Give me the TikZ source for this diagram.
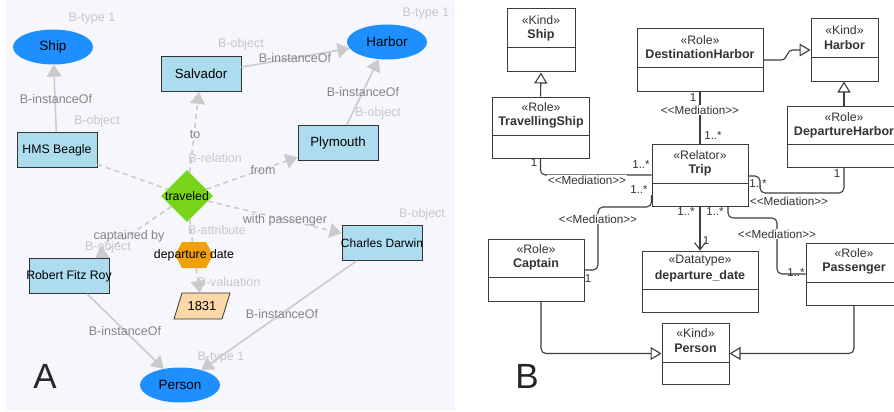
\documentclass[tikz,border=0pt]{standalone}
\usepackage{fontspec}
\setmainfont{Liberation Sans}
\usetikzlibrary{arrows.meta,shapes.geometric}
\definecolor{bgA}{HTML}{F6F7FD}
\definecolor{ellblue}{HTML}{1E8FFF}
\definecolor{boxblue}{HTML}{ADDCEF}
\definecolor{edgegray}{HTML}{CBCBCB}
\definecolor{lblgray}{HTML}{858585}
\definecolor{lightlbl}{HTML}{C8C8C8}
\definecolor{dgreen}{HTML}{78D41A}
\definecolor{orng}{HTML}{F0A10A}
\definecolor{peach}{HTML}{FCD8A8}
\definecolor{umlline}{HTML}{3C3C3C}
\definecolor{umltext}{HTML}{333333}
\begin{document}
\begin{tikzpicture}[x=1pt,y=-1pt,
  ent/.style={ellipse, fill=ellblue, minimum width=80pt, minimum height=35pt, inner sep=0, font=\fontsize{13.5}{15}\selectfont},
  obj/.style={rectangle, draw=umltext, line width=0.8pt, fill=boxblue, minimum width=80pt, minimum height=35pt, inner sep=0},
  objtxt/.style={inner sep=0, font=\fontsize{12.3}{14}\selectfont},
  rel/.style={draw=edgegray, line width=1.6pt, -{Triangle[length=12pt,width=15pt]}},
  drel/.style={rel, dash pattern=on 5pt off 4pt},
  dline/.style={draw=edgegray, line width=1.6pt, dash pattern=on 5pt off 4pt},
  elbl/.style={text=lblgray, font=\fontsize{12.5}{14}\selectfont, inner sep=0},
  tlbl/.style={text=lightlbl, font=\fontsize{12.5}{14}\selectfont, inner sep=0},
  big/.style={text=black!85, font=\fontsize{35}{40}\selectfont, inner sep=0},
  uml/.style={draw=umlline, line width=1pt, fill=white, inner sep=0},
  ster/.style={text=umltext, font=\fontsize{12.3}{14}\selectfont, inner sep=0},
  cname/.style={text=umltext, font=\bfseries\fontsize{12.5}{14}\selectfont, inner sep=0},
  conn/.style={draw=umlline, line width=1.1pt, rounded corners=5pt},
  gen/.style={conn, -{Triangle[open, length=11pt, width=13pt, fill=white]}},
  mult/.style={text=umltext, font=\fontsize{11.5}{13}\selectfont, inner sep=0},
  med/.style={text=umltext, font=\fontsize{11.7}{13}\selectfont, fill=white, inner sep=0.6pt}
]
\useasboundingbox (0,0) rectangle (894,412);
\fill[white] (0,0) rectangle (894,412);
% ---------- Panel A ----------
\fill[bgA] (6,0) rectangle (455,411);

\node[ent] (ship) at (53,47) {Ship};
\node[ent] (harbor) at (387,42) {Harbor};
\node[ent] (person) at (180,385) {Person};

\node[obj] (salv) at (201,74) {};
\node[objtxt, font=\fontsize{13.3}{15}\selectfont] (salvt) at (salv) {Salvador};
\node[obj] (plym) at (338,143) {};
\node[objtxt, font=\fontsize{13.3}{15}\selectfont] (plymt) at (plym) {Plymouth};
\node[obj] (hms) at (57,150) {};
\node[objtxt] (hmst) at (hms) {HMS Beagle};
\node[obj] (cd) at (382,243) {};
\node[objtxt, font=\fontsize{12}{14}\selectfont] (cdt) at (cd) {Charles Darwin};
\node[obj] (rfr) at (69,276) {};
\node[objtxt] (rfrt) at (rfr) {Robert Fitz Roy};

\node[diamond, fill=dgreen, minimum width=52pt, minimum height=52pt, inner sep=0] (trav) at (187,196) {};
\node[objtxt] (travt) at (trav) {traveled};

\node[minimum width=38pt, minimum height=26pt, inner sep=0] (dep) at (194,255) {};
\fill[orng] (175,255) -- (182,242) -- (206,242) -- (213,255) -- (206,268) -- (182,268) -- cycle;
\node[objtxt] (dept) at (dep) {departure date};

\node[minimum width=48pt, minimum height=26pt, inner sep=0] (yr) at (202,306) {};
\filldraw[fill=peach, draw=umltext, line width=0.8pt] (174,319) -- (182,293) -- (230,293) -- (222,319) -- cycle;
\node[objtxt, font=\fontsize{13}{15}\selectfont] (yrt) at (yr) {1831};

% edges A
\draw[rel] (hms) -- (ship);
\draw[rel] (salv) -- (harbor);
\draw[rel] (plym) -- (harbor);
\draw[rel] (rfr) -- (person);
\draw[rel] (cd) -- (person);
\draw[drel] (trav) -- (salv);
\draw[drel] (trav) -- (plym);
\draw[drel] (trav) -- (cd);
\draw[drel] (trav) -- (rfr);
\draw[dline] (hms) -- (trav);
\draw[dline] (trav) -- (dep);
\draw[drel] (dep) -- (yr);

% labels A
\node[elbl] (l1) at (56,99) {B-instanceOf};
\node[elbl] (l2) at (295,58) {B-instanceOf};
\node[elbl] (l3) at (363,92) {B-instanceOf};
\node[elbl] (l4) at (125,331) {B-instanceOf};
\node[elbl] (l5) at (282,314) {B-instanceOf};
\node[elbl] (l6) at (195,135) {to};
\node[elbl] (l7) at (263,170) {from};
\node[elbl] (l8) at (285,220) {with passenger};
\node[elbl] (l9) at (129,236) {captained by};
\node[tlbl] (t1) at (92,18) {B-type 1};
\node[tlbl] (t2) at (426,13) {B-type 1};
\node[tlbl] (t3) at (221,357) {B-type 1};
\node[tlbl] (t4) at (241,44) {B-object};
\node[tlbl] (t5) at (97,121) {B-object};
\node[tlbl] (t6) at (378,113) {B-object};
\node[tlbl] (t7) at (422,214) {B-object};
\node[tlbl] (t8) at (108,247) {B-object};
\node[tlbl] (t9) at (215,158) {B-relation};
\node[tlbl] (t10) at (217,230) {B-attribute};
\node[tlbl] (t11) at (229,282) {B-valuation};
\node[big] (labA) at (45,376) {A};

% ---------- Panel B ----------
% classes
\node[uml, minimum width=68pt, minimum height=63pt] (cship) at (541,40.5) {};
\draw[umlline, line width=1pt] (507,48) -- (575,48);
\node[ster] (cship1) at (541,20) {«Kind»};
\node[cname] (cship2) at (541,35) {Ship};

\node[uml, minimum width=97pt, minimum height=61pt] (cts) at (540.5,127.5) {};
\draw[umlline, line width=1pt] (492,135) -- (589,135);
\node[ster] (cts1) at (541,107) {«Role»};
\node[cname] (cts2) at (541,122) {TravellingShip};

\node[uml, minimum width=126pt, minimum height=62pt] (cdh) at (700,60) {};
\draw[umlline, line width=1pt] (637,68) -- (763,68);
\node[ster] (cdh1) at (700,40) {«Role»};
\node[cname] (cdh2) at (700,54) {DestinationHarbor};

\node[uml, minimum width=67pt, minimum height=62pt] (charbor) at (844.5,50) {};
\draw[umlline, line width=1pt] (811,58) -- (878,58);
\node[ster] (charbor1) at (844.5,30) {«Kind»};
\node[cname] (charbor2) at (844.5,45) {Harbor};

\node[uml, minimum width=114pt, minimum height=61pt] (cdeph) at (844,136.5) {};
\draw[umlline, line width=1pt] (787,144) -- (901,144);
\node[ster] (cdeph1) at (844,117) {«Role»};
\node[cname] (cdeph2) at (844,132) {DepartureHarbor};

\node[uml, minimum width=96pt, minimum height=62pt] (ctrip) at (700,175) {};
\draw[umlline, line width=1pt] (652,183) -- (748,183);
\node[ster] (ctrip1) at (700,155) {«Relator»};
\node[cname] (ctrip2) at (700,170) {Trip};

\node[uml, minimum width=96pt, minimum height=62pt] (ccap) at (536,270) {};
\draw[umlline, line width=1pt] (488,277) -- (584,277);
\node[ster] (ccap1) at (536,249) {«Role»};
\node[cname] (ccap2) at (536,264) {Captain};

\node[uml, minimum width=116pt, minimum height=61pt] (cdd) at (700,281.5) {};
\draw[umlline, line width=1pt] (642,289) -- (758,289);
\node[ster] (cdd1) at (700,261) {«Datatype»};
\node[cname] (cdd2) at (700,276) {departure\_date};

\node[uml, minimum width=96pt, minimum height=62pt] (cpas) at (854,274) {};
\draw[umlline, line width=1pt] (806,282) -- (902,282);
\node[ster] (cpas1) at (854,253) {«Role»};
\node[cname] (cpas2) at (854,269) {Passenger};

\node[uml, minimum width=67pt, minimum height=61pt] (cper) at (695.5,353.5) {};
\draw[umlline, line width=1pt] (662,362) -- (729,362);
\node[ster] (cper1) at (695.5,333) {«Kind»};
\node[cname] (cper2) at (695.5,348) {Person};

% generalizations
\draw[gen] (cts.north) -- (cship.south);
\draw[gen] (cdeph.north) -- (charbor.south -| cdeph.north);
\draw[umlline, line width=1.1pt, -{Triangle[open, length=11pt, width=13pt, fill=white]}]
  (cdh.east) -- (781,60) .. controls (788,60) and (786,50) .. (793,50) -- (charbor.west);
\draw[gen] (ccap.south -| 541,0) |- (cper.west);
\draw[gen] (cpas.south) |- (cper.east);

% mediations
\draw[conn] (cdh.south) -- (ctrip.north);
\draw[conn] (cts.south) |- (ctrip.west);
\draw[conn] (ctrip.west |- 0,195) |- (598,207) |- (ccap.east |- 0,270);
\draw[conn, -{Straight Barb[length=7pt,width=11pt]}] (ctrip.south) -- (cdd.north);
\draw[conn] (ctrip.south -| 728,0) |- (777,218) |- (cpas.west);
\draw[conn] (ctrip.east |- 0,176) -| (760,193) -| (cdeph.south);

\node[med] (m1) at (700,110) {<{}<Mediation>{}>};
\node[med] (m2) at (587,180) {<{}<Mediation>{}>};
\node[med] (m3) at (598,219) {<{}<Mediation>{}>};
\node[med] (m4) at (777,234) {<{}<Mediation>{}>};
\node[med, fill=none] (m5) at (789,201) {<{}<Mediation>{}>};

\node[mult] (n1) at (693,98) {1};
\node[mult] (n2) at (713,136) {1..*};
\node[mult] (n3) at (534,163) {1};
\node[mult] (n4) at (641,165) {1..*};
\node[mult] (n5) at (639,190) {1..*};
\node[mult] (n6) at (588,279) {1};
\node[mult] (n7) at (686,212) {1..*};
\node[mult] (n8) at (715,212) {1..*};
\node[mult] (n9) at (706,241) {1};
\node[mult] (n10) at (796,273) {1..*};
\node[mult] (n11) at (758,184) {1..*};
\node[mult] (n12) at (837,174) {1};

\node[big] (labB) at (527,376) {B};
\end{tikzpicture}
\end{document}
